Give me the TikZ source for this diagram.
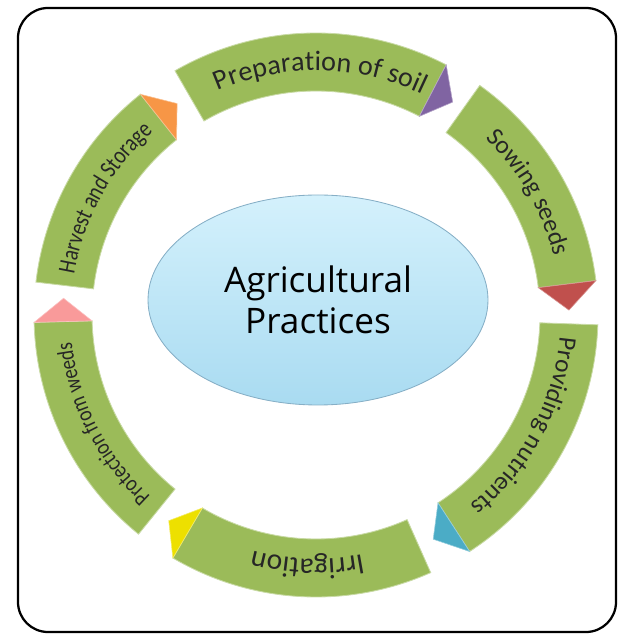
\documentclass[tikz,border=0pt]{standalone}
\usepackage{fontspec}
\setmainfont{Carlito}
\newfontfamily\hubfont{Open Sans}
\newfontfamily\narrowfont[FakeStretch=0.82]{Carlito}
\usepackage{tikz}
\usetikzlibrary{shapes.geometric,decorations.text}
\definecolor{leaf}{HTML}{9BBB59}
\definecolor{tipsoil}{HTML}{8064A2}
\definecolor{tipsow}{HTML}{C0504D}
\definecolor{tipfeed}{HTML}{4BACC6}
\definecolor{tipwater}{HTML}{EDE000}
\definecolor{tipweed}{HTML}{F99A9A}
\definecolor{tipharvest}{HTML}{F79646}
\definecolor{hubtop}{HTML}{D4F1FC}
\definecolor{hubbot}{HTML}{A9DBF1}
\definecolor{hubline}{HTML}{86AFC6}

\begin{document}
\begin{tikzpicture}
\tikzset{seg/.style={fill=leaf,draw=leaf!55!white,line width=0.6pt},
tip/.style={fill=#1,draw=#1!60!white,line width=0.4pt},
lbl/.style={decorate,decoration={text along path,text align=center,text={#1}}}}

\useasboundingbox (-7.9,-8.125) rectangle (8.1,7.875);
\draw[line width=1.6pt,rounded corners=0.75cm] (-7.45,-7.925) rectangle (7.5,7.675);

\draw[seg] (120:7.05) arc[start angle=120,end angle=62.5,radius=7.05] -- (62.5:5.6) arc[start angle=62.5,end angle=120,radius=5.6] -- cycle;
\draw[tip=tipsoil] (62.5:7.05) -- (57.3:6.325) -- (62.5:5.6) -- cycle;
\path[lbl={|\color{black!85}\fontsize{20}{24}\selectfont|Preparation of soil}] (129:6.11) arc[start angle=129,end angle=49,radius=6.11];

\draw[seg] (54.5:7.05) arc[start angle=54.5,end angle=7,radius=7.05] -- (7:5.6) arc[start angle=7,end angle=54.5,radius=5.6] -- cycle;
\draw[tip=tipsow] (7:7.05) -- (1.1:6.325) -- (7:5.6) -- cycle;
\path[lbl={|\color{black!85}\fontsize{18}{22}\selectfont|Sowing seeds}] (70:6.12) arc[start angle=70,end angle=-10,radius=6.12];

\draw[seg] (-2:7.05) arc[start angle=-2,end angle=-57,radius=7.05] -- (-57:5.6) arc[start angle=-57,end angle=-2,radius=5.6] -- cycle;
\draw[tip=tipfeed] (-57:7.05) -- (-62.4:6.325) -- (-57:5.6) -- cycle;
\path[lbl={|\color{black!85}\fontsize{18}{22}\selectfont|Providing nutrients}] (12:6.12) arc[start angle=12,end angle=-68,radius=6.12];

\draw[seg] (-66:7.05) arc[start angle=-66,end angle=-120.5,radius=7.05] -- (-120.5:5.6) arc[start angle=-120.5,end angle=-66,radius=5.6] -- cycle;
\draw[tip=tipwater] (-120.5:7.05) -- (-125.6:6.325) -- (-120.5:5.6) -- cycle;
\path[lbl={|\color{black!85}\fontsize{21}{25}\selectfont|Irrigation}] (-52:6.1) arc[start angle=-52,end angle=-132,radius=6.1];

\draw[seg] (-129:7.05) arc[start angle=-129,end angle=-178.5,radius=7.05] -- (-178.5:5.6) arc[start angle=-178.5,end angle=-129,radius=5.6] -- cycle;
\draw[tip=tipweed] (-178.5:7.05) -- (-183.8:6.325) -- (-178.5:5.6) -- cycle;
\path[lbl={|\color{black!85}\narrowfont\fontsize{16.5}{20}\selectfont|Protection from weeds}] (-113:6.14) arc[start angle=-113,end angle=-193,radius=6.14];

\draw[seg] (-186.7:7.05) arc[start angle=-186.7,end angle=-231.5,radius=7.05] -- (-231.5:5.6) arc[start angle=-231.5,end angle=-186.7,radius=5.6] -- cycle;
\draw[tip=tipharvest] (-231.5:7.05) -- (-236.7:6.325) -- (-231.5:5.6) -- cycle;
\path[lbl={|\color{black!85}\narrowfont\fontsize{17.5}{21}\selectfont|Harvest and Storage}] (-169:6.13) arc[start angle=-169,end angle=-249,radius=6.13];

\node[ellipse,draw=hubline,line width=0.6pt,top color=hubtop,bottom color=hubbot,minimum width=8.5cm,minimum height=5.25cm,inner sep=0pt,align=center,font=\hubfont\fontsize{25}{29}\selectfont] (ap) at (0.05,0.375) {Agricultural\\Practices};

\end{tikzpicture}
\end{document}
